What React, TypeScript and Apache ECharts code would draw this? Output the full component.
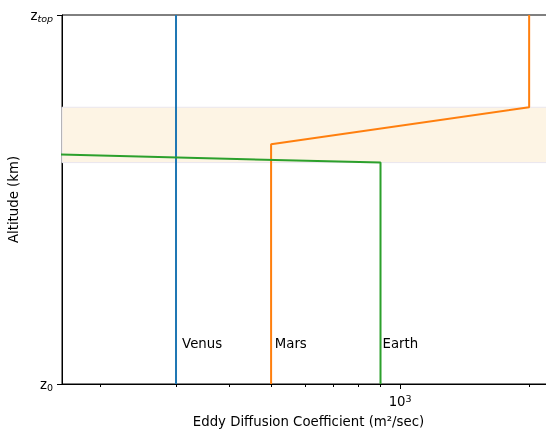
import React, { useEffect, useRef } from "react";
import * as echarts from "echarts";

const venusLine: number[][] = [[300, 0], [300, 100]];
const marsLine: number[][] = [[500, 0], [500, 65], [2000, 75], [2000, 100]];
const earthLine: number[][] = [[900, 0], [900, 60], [150, 62.3]];
const planetLabels: [number, number, string][] = [[310, 10, "Venus"], [510, 10, "Mars"], [910, 10, "Earth"]];
const bandRange = [60, 75];
const majorTicks = [1000];
const minorTicks = [200, 300, 400, 500, 600, 700, 800, 900, 2000];
const yTicks = [0, 100];

const FONT = "DejaVu Sans";
const FS = 13.3;
const X_MIN = 162.6;
const X_MAX = 2298;

export default function App() {
  const ref = useRef<HTMLDivElement>(null);
  useEffect(() => {
    if (!ref.current) return;
    const chart = echarts.init(ref.current, null, { renderer: "svg" });
    chart.setOption({
      animation: false,
      textStyle: { fontFamily: FONT, color: "#000" },
      grid: {
        left: 62,
        top: 15,
        width: 493,
        height: 369,
        show: true,
        borderColor: "#000",
        borderWidth: 1,
        containLabel: false,
        outerBoundsMode: "none",
      },
      xAxis: [
        {
          type: "log",
          logBase: 10,
          min: X_MIN,
          max: X_MAX,
          position: "bottom",
          axisLine: { show: true, lineStyle: { color: "#000", width: 1 } },
          axisTick: { show: true, customValues: majorTicks, length: 5, lineStyle: { color: "#000", width: 1 } },
          axisLabel: {
            show: true,
            customValues: majorTicks,
            margin: 9,
            fontFamily: FONT,
            fontSize: FS,
            color: "#000",
            formatter: () => "10{sup|3}",
            rich: {
              sup: { fontSize: 9.5, fontFamily: FONT, color: "#000", verticalAlign: "top", padding: [0, 0, 6, 0] },
            },
          },
          splitLine: { show: false },
          name: "Eddy Diffusion Coefficient (m²/sec)",
          nameLocation: "middle",
          nameGap: 31,
          nameTextStyle: { fontFamily: FONT, fontSize: FS, color: "#000" },
        },
        {
          type: "log",
          logBase: 10,
          min: X_MIN,
          max: X_MAX,
          position: "bottom",
          axisLine: { show: false },
          axisTick: { show: true, customValues: minorTicks, length: 3, lineStyle: { color: "#000", width: 1 } },
          axisLabel: { show: false },
          splitLine: { show: false },
        },
      ],
      yAxis: {
        type: "value",
        min: 0,
        max: 100,
        axisLine: { show: true, lineStyle: { color: "#000", width: 1 } },
        axisTick: { show: true, customValues: yTicks, length: 5, lineStyle: { color: "#000", width: 1 } },
        axisLabel: {
          show: true,
          customValues: yTicks,
          margin: 9,
          fontFamily: FONT,
          fontSize: FS,
          color: "#000",
          formatter: (v: number) => (v === 0 ? "z{sub|0}" : "z{subi|top}"),
          rich: {
            sub: { fontSize: 9.5, fontFamily: FONT, color: "#000", verticalAlign: "bottom", padding: [6, 0, 0, 0] },
            subi: { fontSize: 9.5, fontFamily: FONT, fontStyle: "italic", color: "#000", verticalAlign: "bottom", padding: [6, 0, 0, 0] },
          },
        },
        splitLine: { show: false },
        name: "Altitude (km)",
        nameLocation: "middle",
        nameRotate: 90,
        nameGap: 30,
        nameTextStyle: { fontFamily: FONT, fontSize: FS, color: "#000" },
      },
      series: [
        {
          type: "line",
          data: [[300, 0]],
          symbol: "none",
          lineStyle: { opacity: 0 },
          z: 1,
          silent: true,
          markArea: {
            silent: true,
            itemStyle: { color: "#fdf4e4", borderColor: "#e9e6ee", borderWidth: 1 },
            data: [[{ yAxis: bandRange[0] }, { yAxis: bandRange[1] }]],
          },
        },
        {
          name: "Venus",
          type: "line",
          data: venusLine,
          symbol: "none",
          clip: true,
          lineStyle: { color: "#1f77b4", width: 2 },
          z: 3,
        },
        {
          name: "Mars",
          type: "line",
          data: marsLine,
          symbol: "none",
          clip: true,
          lineStyle: { color: "#ff7f0e", width: 2 },
          z: 3,
        },
        {
          name: "Earth",
          type: "line",
          data: earthLine,
          symbol: "none",
          clip: true,
          lineStyle: { color: "#2ca02c", width: 2 },
          z: 3,
        },
        {
          type: "scatter",
          data: planetLabels,
          symbolSize: 0,
          z: 4,
          itemStyle: { opacity: 1 },
          label: {
            show: true,
            position: [0, 0],
            align: "left",
            verticalAlign: "bottom",
            offset: [0, 3],
            fontFamily: FONT,
            fontSize: FS,
            color: "#000",
            opacity: 1,
            formatter: (p: any) => p.value[2],
          },
        },
      ],
    });
    return () => chart.dispose();
  }, []);
  return <div ref={ref} style={{ width: 546, height: 430, position: "fixed", left: 0, top: 0 }} />;
}
